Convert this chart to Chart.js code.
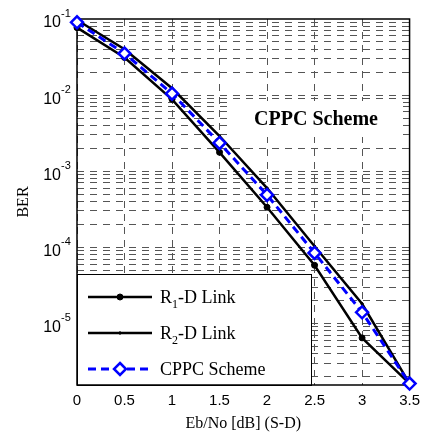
<!DOCTYPE html>
<html>
<head>
<meta charset="utf-8">
<script src="https://cdn.jsdelivr.net/npm/chart.js@4.4.1/dist/chart.umd.min.js"></script>
<style>
  html, body { margin: 0; padding: 0; background: #fff; }
  #wrap { width: 427px; height: 437px; }
</style>
</head>
<body>
<div id="wrap"><canvas id="berChart" width="427" height="437"></canvas></div>
<script>
let snr = [0, 0.5, 1, 1.5, 2, 2.5, 3, 3.5];//Eb/No values (dB)
let r1Link = [0.077, 0.0312, 0.0088, 0.00177, 3.36e-4, 5.8e-5, 6.45e-6, 1.62e-6];//R1-D link BER
let r2Link = [0.097, 0.040, 0.0123, 0.0029, 6.0e-4, 1.03e-4, 1.81e-5, 1.62e-6];//R2-D link BER
let cppc = [0.0905, 0.0352, 0.01045, 0.00235, 4.87e-4, 8.43e-5, 1.40e-5, 1.62e-6];//CPPC scheme BER

let yDecades = [-1, -2, -3, -4, -5];//labelled powers of ten
let yMantissa = [1, 2, 3, 4, 5, 6, 7, 8, 9];//minor grid steps in each decade
let yMin = 1.55e-6;
let yMax = 0.1;

let serif = '"Liberation Serif", "Times New Roman", serif';
let sans = '"Liberation Sans", Arial, sans-serif';

// grid values for the log axis (1..9 x 10^n, inside the range)
let yGrid = [];
[-6, -5, -4, -3, -2].forEach(e => {
    yMantissa.forEach(m => {
        let v = m * Math.pow(10, e);
        if (v > yMin && v <= yMax * 1.0001) yGrid.push(v);
    });
});

let legendItems = [
    { main: 'R', sub: '1', rest: '-D Link', ds: 0 },
    { main: 'R', sub: '2', rest: '-D Link', ds: 1 },
    { main: 'CPPC Scheme', sub: '', rest: '', ds: 2 }
];

function drawMarker(ctx, ds, x, y) {//draw a legend marker like the dataset's point
    ctx.save();
    ctx.lineWidth = ds.pointBorderWidth;
    ctx.strokeStyle = ds.pointBorderColor;
    ctx.fillStyle = ds.pointBackgroundColor;
    ctx.setLineDash([]);
    let r = ds.pointRadius;
    ctx.beginPath();
    if (ds.pointStyle === 'rectRot') {
        ctx.moveTo(x, y - r); ctx.lineTo(x + r, y); ctx.lineTo(x, y + r); ctx.lineTo(x - r, y); ctx.closePath();
    } else {
        ctx.arc(x, y, r, 0, Math.PI * 2);
    }
    ctx.fill();
    ctx.stroke();
    ctx.restore();
}

const overlays = {
    id: 'overlays',
    beforeDatasetsDraw(chart) {
        const ctx = chart.ctx;
        const a = chart.chartArea;
        ctx.save();
        // annotation box with no border
        ctx.fillStyle = '#fff';
        ctx.fillRect(230, 101, 173, 36);
        ctx.fillStyle = '#000';
        ctx.font = 'bold 20px ' + serif;
        ctx.textAlign = 'center';
        ctx.textBaseline = 'middle';
        ctx.fillText('CPPC Scheme', 316, 120);

        // legend box in lower left
        let lx = a.left, ly = 274, lw = 234, lh = a.bottom - 274;
        ctx.fillStyle = '#fff';
        ctx.fillRect(lx, ly, lw, lh);
        ctx.strokeStyle = '#000';
        ctx.lineWidth = 1;
        ctx.strokeRect(lx + 0.5, ly + 0.5, lw, lh);
        let rows = [297, 333, 369];
        legendItems.forEach((item, i) => {
            let ds = chart.data.datasets[item.ds];
            let y = rows[i];
            ctx.save();
            ctx.strokeStyle = ds.borderColor;
            ctx.lineWidth = ds.borderWidth;
            ctx.setLineDash(ds.borderDash || []);
            ctx.beginPath();
            ctx.moveTo(88, y); ctx.lineTo(152, y);
            ctx.stroke();
            ctx.restore();
            drawMarker(ctx, ds, 120, y);
            ctx.fillStyle = '#000';
            ctx.textAlign = 'left';
            ctx.textBaseline = 'alphabetic';
            ctx.font = '18px ' + serif;
            let tx = 160, base = y + 6;
            ctx.fillText(item.main, tx, base);
            tx += ctx.measureText(item.main).width;
            if (item.sub) {
                ctx.font = '12px ' + serif;
                ctx.fillText(item.sub, tx, base + 5);
                tx += ctx.measureText(item.sub).width;
                ctx.font = '18px ' + serif;
                ctx.fillText(item.rest, tx, base);
            }
        });

        // axes frame
        ctx.strokeStyle = '#000';
        ctx.lineWidth = 1.5;
        ctx.strokeRect(a.left, a.top, a.right - a.left, a.bottom - a.top);
        ctx.restore();
    },
    afterDraw(chart) {//y tick labels as 10 with superscript exponent
        const ctx = chart.ctx;
        const ys = chart.scales.y;
        ctx.save();
        ctx.fillStyle = '#000';
        ctx.textBaseline = 'middle';
        yDecades.forEach(e => {
            let y = ys.getPixelForValue(Math.pow(10, e));
            ctx.font = '16px ' + sans;
            ctx.textAlign = 'right';
            ctx.fillText('10', 61, y + 4);
            ctx.font = '11px ' + sans;
            ctx.textAlign = 'left';
            ctx.fillText(String(e), 61, y - 5);
        });
        ctx.restore();
    }
};

const canvas = document.getElementById('berChart');
const context = canvas.getContext('2d');

const data = {
    datasets: [{
        label: 'R1-D Link',
        data: snr.map((x, i) => ({ x: x, y: r1Link[i] })),
        borderColor: '#000',
        borderWidth: 2.5,
        pointStyle: 'circle',
        pointRadius: 3,
        pointBackgroundColor: '#000',
        pointBorderColor: '#000',
        pointBorderWidth: 1,
        order: 2,
        clip: false
    }, {
        label: 'R2-D Link',
        data: snr.map((x, i) => ({ x: x, y: r2Link[i] })),
        borderColor: '#000',
        borderWidth: 2.5,
        pointStyle: 'circle',
        pointRadius: 1.2,
        pointBackgroundColor: '#000',
        pointBorderColor: '#000',
        pointBorderWidth: 1,
        order: 1,
        clip: false
    }, {
        label: 'CPPC Scheme',
        data: snr.map((x, i) => ({ x: x, y: cppc[i] })),
        borderColor: '#0000ff',
        borderWidth: 3,
        borderDash: [8, 5],
        pointStyle: 'rectRot',
        pointRadius: 6,
        pointBackgroundColor: '#fff',
        pointBorderColor: '#0000ff',
        pointBorderWidth: 2.5,
        order: 0,//blue on top
        clip: false
    }]
};

const options = {
    responsive: false,
    animation: false,
    events: [],
    layout: { padding: { top: 19, right: 13, left: 0, bottom: 0 } },
    plugins: {
        legend: { display: false },
        tooltip: { enabled: false }
    },
    scales: {
        x: {
            type: 'linear',
            min: 0,
            max: 3.5,
            ticks: {
                stepSize: 0.5,
                color: '#000',
                padding: 7,
                font: { family: sans, size: 15 },
                callback: v => String(v)
            },
            grid: { color: '#555', lineWidth: 1, drawTicks: false },
            border: { display: false, dash: [7, 6] },
            title: {
                display: true,
                text: 'Eb/No [dB] (S-D)',
                color: '#000',
                font: { family: serif, size: 16 },
                padding: { top: 0, bottom: 4 }
            },
            afterFit: s => { s.height = 52; }
        },
        y: {
            type: 'logarithmic',
            min: yMin,
            max: yMax,
            afterBuildTicks: s => { s.ticks = yGrid.map(v => ({ value: v })); },
            ticks: { display: false },
            grid: { color: '#555', lineWidth: 1, drawTicks: false },
            border: { display: false, dash: [7, 6] },
            title: {
                display: true,
                text: 'BER',
                color: '#000',
                font: { family: serif, size: 16 },
                padding: { top: 14, bottom: 0 }
            },
            afterFit: s => { s.width = 77; }
        }
    }
};

const berChart = new Chart(context, {
    type: 'line',
    data: data,
    options: options,
    plugins: [overlays]
});
</script>
</body>
</html>
